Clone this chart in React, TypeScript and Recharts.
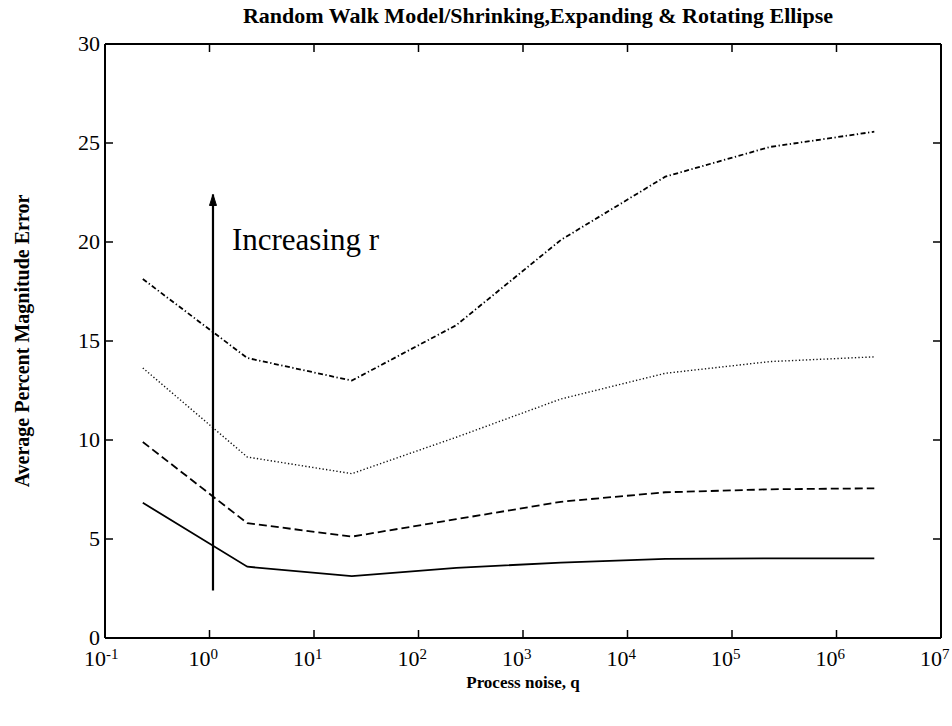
import React from 'react';
import { LineChart, Line, XAxis, YAxis, ReferenceDot } from 'recharts';

const qValues = [0.23, 2.3, 23, 230, 2300, 23000, 230000, 2300000];
const solidSeries = [6.83, 3.6, 3.13, 3.54, 3.81, 4.0, 4.02, 4.02];
const dashedSeries = [9.9, 5.8, 5.12, 6.0, 6.88, 7.36, 7.51, 7.56];
const dottedSeries = [13.64, 9.14, 8.3, 10.14, 12.07, 13.37, 13.96, 14.2];
const dashDotSeries = [18.13, 14.14, 13.0, 15.8, 20.1, 23.3, 24.8, 25.57];

const xTicks = [0.1, 1, 10, 100, 1000, 10000, 100000, 1000000, 10000000];
const yTicks = [0, 5, 10, 15, 20, 25, 30];

const arrowQ = [1.08, 1.08];
const arrowV = [2.4, 22.4];

const titleText = 'Random Walk Model/Shrinking,Expanding & Rotating Ellipse';
const xLabelText = 'Process noise, q';
const yLabelText = 'Average Percent Magnitude Error';
const annotationText = 'Increasing r';
const annotationQ = 1.64;
const annotationV = 20.1;

const data = qValues.map((q, i) => ({
  q,
  s1: solidSeries[i],
  s2: dashedSeries[i],
  s3: dottedSeries[i],
  s4: dashDotSeries[i],
}));

const arrowData = arrowQ.map((q, i) => ({ q, v: arrowV[i] }));

const FONT = '"Liberation Serif", "DejaVu Serif", serif';

const BottomTick = (props: any) => {
  const { x, y, payload } = props;
  const exp = Math.round(Math.log10(payload.value));
  return (
    <g>
      <line x1={x} y1={y} x2={x} y2={y - 8} stroke="#000" strokeWidth={1.5} />
      <text x={x + 1} y={y + 28} textAnchor="end" fontSize={22} fontFamily={FONT} fill="#000">
        10
      </text>
      <text x={x + 1} y={y + 21} textAnchor="start" fontSize={15} fontFamily={FONT} fill="#000">
        {exp}
      </text>
    </g>
  );
};

const TopTick = (props: any) => {
  const { x, y } = props;
  return <line x1={x} y1={y} x2={x} y2={y + 8} stroke="#000" strokeWidth={1.5} />;
};

const LeftTick = (props: any) => {
  const { x, y, payload } = props;
  return (
    <g>
      <line x1={x} y1={y} x2={x + 8} y2={y} stroke="#000" strokeWidth={1.5} />
      <text x={x - 5} y={y} dy={7} textAnchor="end" fontSize={22} fontFamily={FONT} fill="#000">
        {payload.value}
      </text>
    </g>
  );
};

const RightTick = (props: any) => {
  const { x, y } = props;
  return <line x1={x} y1={y} x2={x - 8} y2={y} stroke="#000" strokeWidth={1.5} />;
};

const YLabel = (props: any) => {
  const vb = props.viewBox || {};
  const cx = vb.x - 23;
  const cy = vb.y + vb.height / 2;
  return (
    <text
      x={cx}
      y={cy}
      transform={`rotate(-90 ${cx} ${cy})`}
      textAnchor="middle"
      dominantBaseline="central"
      fontSize={20}
      fontWeight="bold"
      fontFamily={FONT}
      fill="#000"
    >
      {yLabelText}
    </text>
  );
};

const XLabel = (props: any) => {
  const vb = props.viewBox || {};
  return (
    <text
      x={vb.x + vb.width / 2}
      y={vb.y + 50}
      textAnchor="middle"
      fontSize={17}
      fontWeight="bold"
      fontFamily={FONT}
      fill="#000"
    >
      {xLabelText}
    </text>
  );
};

const AnnotationLabel = (props: any) => {
  const vb = props.viewBox || {};
  return (
    <text
      x={vb.x}
      y={vb.y}
      dy={10}
      textAnchor="start"
      fontSize={31}
      fontFamily={FONT}
      fill="#000"
    >
      {annotationText}
    </text>
  );
};

const ArrowDot = (props: any) => {
  const { cx, cy, index } = props;
  if (index !== 1) return <g key={`ad-${index}`} />;
  return (
    <path
      key={`ad-${index}`}
      d={`M ${cx} ${cy} L ${cx - 3.5} ${cy + 11} L ${cx + 3.5} ${cy + 11} Z`}
      fill="#000"
      stroke="#000"
    />
  );
};

export default function App() {
  return (
    <div style={{ position: 'absolute', left: 0, top: 0, width: 952, height: 726, background: '#fff' }}>
      <div
        style={{
          position: 'absolute',
          left: 538,
          top: 4,
          transform: 'translateX(-50%)',
          whiteSpace: 'nowrap',
          fontFamily: FONT,
          fontWeight: 'bold',
          fontSize: 22,
          lineHeight: '24px',
          color: '#000',
        }}
      >
        {titleText}
      </div>
      <LineChart
        width={952}
        height={726}
        data={data}
        margin={{ top: 43, right: 10, bottom: 28, left: 45 }}
      >
        <XAxis
          xAxisId="bottom"
          dataKey="q"
          type="number"
          scale="log"
          domain={[0.1, 10000000]}
          ticks={xTicks}
          allowDataOverflow
          height={60}
          tickSize={0}
          tickMargin={0}
          tickLine={false}
          axisLine={{ stroke: '#000', strokeWidth: 2 }}
          tick={BottomTick}
          interval={0}
          label={<XLabel />}
        />
        <XAxis
          xAxisId="top"
          dataKey="q"
          orientation="top"
          type="number"
          scale="log"
          domain={[0.1, 10000000]}
          ticks={xTicks}
          allowDataOverflow
          height={1}
          tickSize={0}
          tickMargin={0}
          tickLine={false}
          axisLine={{ stroke: '#000', strokeWidth: 2 }}
          tick={TopTick}
          interval={0}
        />
        <YAxis
          yAxisId="left"
          type="number"
          domain={[0, 30]}
          ticks={yTicks}
          allowDataOverflow
          width={60}
          tickSize={0}
          tickMargin={0}
          tickLine={false}
          axisLine={{ stroke: '#000', strokeWidth: 2 }}
          tick={LeftTick}
          interval={0}
          label={<YLabel />}
        />
        <YAxis
          yAxisId="right"
          orientation="right"
          type="number"
          domain={[0, 30]}
          ticks={yTicks}
          allowDataOverflow
          width={1}
          tickSize={0}
          tickMargin={0}
          tickLine={false}
          axisLine={{ stroke: '#000', strokeWidth: 2 }}
          tick={RightTick}
          interval={0}
        />
        <Line
          xAxisId="top"
          yAxisId="right"
          dataKey="s1"
          stroke="none"
          dot={false}
          activeDot={false}
          isAnimationActive={false}
        />
        <Line
          xAxisId="bottom"
          yAxisId="left"
          dataKey="s1"
          type="linear"
          stroke="#000"
          strokeWidth={1.8}
          dot={false}
          isAnimationActive={false}
        />
        <Line
          xAxisId="bottom"
          yAxisId="left"
          dataKey="s2"
          type="linear"
          stroke="#000"
          strokeWidth={1.8}
          strokeDasharray="8 4"
          dot={false}
          isAnimationActive={false}
        />
        <Line
          xAxisId="bottom"
          yAxisId="left"
          dataKey="s3"
          type="linear"
          stroke="#111"
          strokeWidth={1.4}
          strokeDasharray="1.3 2.2"
          dot={false}
          isAnimationActive={false}
        />
        <Line
          xAxisId="bottom"
          yAxisId="left"
          dataKey="s4"
          type="linear"
          stroke="#000"
          strokeWidth={1.8}
          strokeDasharray="5 2.5 1.3 2.5"
          dot={false}
          isAnimationActive={false}
        />
        <Line
          xAxisId="bottom"
          yAxisId="left"
          data={arrowData}
          dataKey="v"
          type="linear"
          stroke="#000"
          strokeWidth={2.2}
          dot={ArrowDot}
          activeDot={false}
          isAnimationActive={false}
        />
        <ReferenceDot
          xAxisId="bottom"
          yAxisId="left"
          x={annotationQ}
          y={annotationV}
          r={0}
          fill="none"
          stroke="none"
          label={<AnnotationLabel />}
        />
      </LineChart>
    </div>
  );
}
